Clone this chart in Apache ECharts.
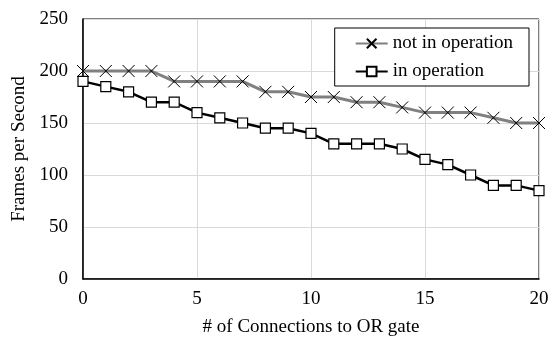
<!DOCTYPE html>
<html><head><meta charset="utf-8">
<script src="https://cdn.jsdelivr.net/npm/echarts@6/dist/echarts.min.js"></script>
<style>html,body{margin:0;padding:0;background:#fff}#c{width:559px;height:338px}</style>
</head><body><div id="c"></div>
<script>
const connections = [0,1,2,3,4,5,6,7,8,9,10,11,12,13,14,15,16,17,18,19,20];
const notInOperation = [200,200,200,200,190,190,190,190,180,180,175,175,170,170,165,160,160,160,155,150,150];
const inOperation = [190,185,180,170,170,160,155,150,145,145,140,130,130,130,125,115,110,100,90,90,85];
const xTicks = [0,5,10,15,20];
const yTicks = [0,50,100,150,200,250];

const font = '"Liberation Serif", "Times New Roman", serif';
const crossPath = 'path://M0,0L10,10M10,0L0,10';
const chart = echarts.init(document.getElementById('c'));
chart.setOption({
  animation: false,
  grid: {left: 83, right: 20, top: 19, bottom: 59, outerBoundsMode: 'none', containLabel: false,
    show: true, borderColor: '#000', borderWidth: 1, backgroundColor: 'transparent'},
  legend: {
    right: 30, top: 28, orient: 'vertical',
    backgroundColor: '#fff', borderColor: '#000', borderWidth: 1,
    padding: [6, 16, 5, 20], itemGap: 9, itemWidth: 32, itemHeight: 12,
    textStyle: {fontFamily: font, fontSize: 19, color: '#000'},
    data: ['not in operation', 'in operation']
  },
  xAxis: {
    type: 'value', min: 0, max: 20, interval: 5,
    name: '# of Connections to OR gate', nameLocation: 'middle', nameGap: 39,
    nameTextStyle: {fontFamily: font, fontSize: 19, color: '#000'},
    axisLine: {show: true, lineStyle: {color: '#000', width: 1.5}},
    axisTick: {show: false},
    axisLabel: {fontFamily: font, fontSize: 19, color: '#000', margin: 11,
      formatter: v => xTicks.includes(v) ? String(v) : ''},
    splitLine: {show: true, lineStyle: {color: '#d9d9d9', width: 1}}
  },
  yAxis: {
    type: 'value', min: 0, max: 250, interval: 50,
    name: 'Frames per Second', nameLocation: 'middle', nameGap: 54,
    nameTextStyle: {fontFamily: font, fontSize: 19, color: '#000'},
    axisLine: {show: true, lineStyle: {color: '#000', width: 1.5}},
    axisTick: {show: false},
    axisLabel: {fontFamily: font, fontSize: 19, color: '#000', margin: 15,
      formatter: v => yTicks.includes(v) ? String(v) : ''},
    splitLine: {show: true, lineStyle: {color: '#d9d9d9', width: 1}}
  },
  series: [
    {
      name: 'not in operation', type: 'line',
      data: connections.map((x, i) => [x, notInOperation[i]]),
      symbol: crossPath, symbolSize: 12, showAllSymbol: true,
      lineStyle: {color: '#808080', width: 3},
      itemStyle: {color: 'none', borderColor: '#000', borderWidth: 1},
      z: 2
    },
    {
      name: 'in operation', type: 'line',
      data: connections.map((x, i) => [x, inOperation[i]]),
      symbol: 'rect', symbolSize: 10, showAllSymbol: true,
      lineStyle: {color: '#000', width: 2.5},
      itemStyle: {color: '#fff', borderColor: '#000', borderWidth: 1.2},
      z: 3
    }
  ]
});
</script></body></html>
